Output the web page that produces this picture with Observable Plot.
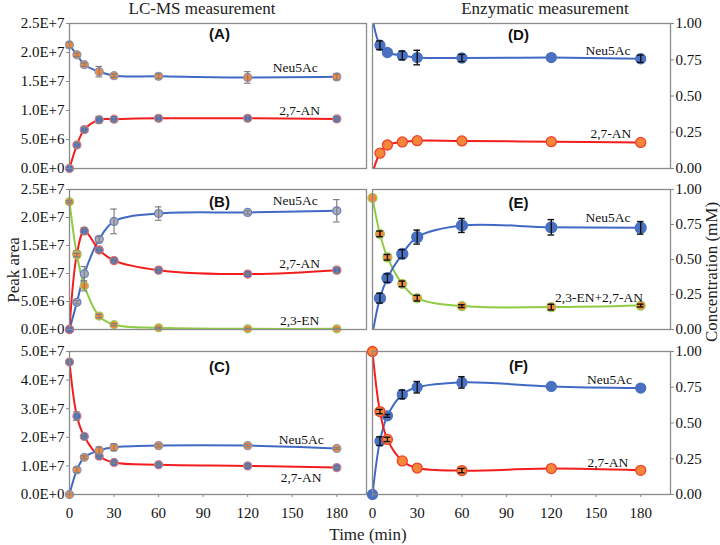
<!DOCTYPE html>
<html><head><meta charset="utf-8">
<script src="https://cdn.jsdelivr.net/npm/d3@7"></script>
<script src="https://cdn.jsdelivr.net/npm/@observablehq/plot@0.6"></script>
<style>
body{margin:0;background:#fff;}
#wrap{position:relative;width:720px;height:545px;overflow:hidden;}
#wrap svg{position:absolute;background:transparent !important;font-family:"Liberation Serif",serif;font-size:15px;}
#wrap svg text{font-family:"Liberation Serif",serif !important;}
#wrap svg g[aria-label="y-axis tick label"] text,
#wrap svg g[aria-label="x-axis tick label"] text{font-size:15px !important;}
#wrap svg g[aria-label="text"] text{font-size:13.5px !important;}
#wrap svg g[aria-label="text"][font-weight="bold"] text{font-family:"Liberation Sans",sans-serif !important;font-size:15px !important;}
.lbl{position:absolute;font-family:"Liberation Serif",serif;color:#222;white-space:nowrap;line-height:1;}
</style></head><body><div id="wrap"></div>
<script>
// ---------- data ----------
const time = [0, 5, 10, 20, 30, 60, 120, 180];
const xTicks = [0, 30, 60, 90, 120, 150, 180];

const lcTicksA = [0, 5e6, 10e6, 15e6, 20e6, 25e6];
const lcLabelsA = ["0.0E+0", "5.0E+6", "1.0E+7", "1.5E+7", "2.0E+7", "2.5E+7"];
const lcTicksC = [0, 10e6, 20e6, 30e6, 40e6, 50e6];
const lcLabelsC = ["0.0E+0", "1.0E+7", "2.0E+7", "3.0E+7", "4.0E+7", "5.0E+7"];
const enzTicks = [0, 0.25, 0.5, 0.75, 1.0];
const enzLabels = ["0.00", "0.25", "0.50", "0.75", "1.00"];

// (A) LC-MS
const A_neu = [21.3e6, 19.6e6, 17.9e6, 16.7e6, 16.0e6, 15.9e6, 15.7e6, 15.8e6];
const A_neu_err = [0.5e6, 0.3e6, 0.3e6, 0.9e6, 0.3e6, 0.4e6, 1.0e6, 0.5e6];
const A_an = [0, 4.05e6, 6.7e6, 8.4e6, 8.5e6, 8.65e6, 8.65e6, 8.55e6];
const A_an_err = [0, 0.3e6, 0.4e6, 0.6e6, 0.3e6, 0.4e6, 0.4e6, 0.2e6];
// (B) LC-MS
const B_neu = [0, 4.86e6, 9.95e6, 16.1e6, 19.3e6, 20.7e6, 20.9e6, 21.2e6];
const B_neu_err = [0, 0.3e6, 1.3e6, 0.5e6, 2.2e6, 1.2e6, 0.3e6, 2.0e6];
const B_an = [0, 13.5e6, 17.6e6, 14.2e6, 12.3e6, 10.6e6, 9.9e6, 10.6e6];
const B_an_err = [0, 0.5e6, 0.6e6, 0.3e6, 0.3e6, 0.3e6, 0.2e6, 0.5e6];
const B_en = [22.8e6, 13.3e6, 7.8e6, 2.4e6, 0.85e6, 0.3e6, 0.12e6, 0.12e6];
const B_en_err = [0.2e6, 0.3e6, 0.9e6, 0.3e6, 0.2e6, 0.1e6, 0.1e6, 0.1e6];
// (C) LC-MS
const C_an = [46.3e6, 27.4e6, 20.3e6, 13.4e6, 11.2e6, 10.4e6, 10.0e6, 9.4e6];
const C_an_err = [0.4e6, 1.5e6, 0.5e6, 0.5e6, 0.4e6, 0.3e6, 0.3e6, 0.3e6];
const C_neu = [0, 8.6e6, 13.0e6, 15.4e6, 16.5e6, 17.1e6, 17.1e6, 16.1e6];
const C_neu_err = [0, 0.9e6, 0.5e6, 1.2e6, 1.2e6, 0.5e6, 0.4e6, 0.3e6];
// (D) Enzymatic
const D_neu = [1.03, 0.85, 0.80, 0.78, 0.765, 0.762, 0.765, 0.757];
const D_neu_err = [0, 0.03, 0, 0.03, 0.05, 0.025, 0, 0.025];
const D_an = [-0.03, 0.106, 0.162, 0.183, 0.192, 0.19, 0.185, 0.18];
const D_an_err = [0, 0, 0, 0, 0, 0, 0, 0];
// (E) Enzymatic
const E_neu = [-0.03, 0.224, 0.367, 0.54, 0.66, 0.743, 0.73, 0.726];
const E_neu_err = [0, 0.035, 0.03, 0.03, 0.05, 0.05, 0.055, 0.045];
const E_en = [0.94, 0.683, 0.516, 0.326, 0.224, 0.167, 0.16, 0.171];
const E_en_err = [0, 0.02, 0.02, 0.02, 0.02, 0.01, 0.02, 0.01];
// (F) Enzymatic
const F_neu = [0, 0.373, 0.55, 0.70, 0.75, 0.784, 0.756, 0.744];
const F_neu_err = [0, 0.03, 0.01, 0.03, 0.04, 0.04, 0, 0];
const F_an = [1.0, 0.58, 0.385, 0.235, 0.185, 0.167, 0.181, 0.169];
const F_an_err = [0, 0.015, 0.015, 0, 0, 0.015, 0, 0];

// ---------- styles ----------
const BLUE = "#4169c4", RED = "#f21d1d", GREEN = "#8fcb45";
const ORANGE = "#f5873a", MBLUE = "#4a70c2", GRAYM = "#a9adbd";
const FRAME = "#8a8a8a";

const wrap = document.getElementById("wrap");

function panel(cfg) {
  const yMax = cfg.yTicks[cfg.yTicks.length - 1];
  const marks = [];
  const rowsOf = s => time.map((t, i) => ({t, v: s.y[i], e: s.err[i]}));
  for (const s of cfg.series) {
    marks.push(Plot.line(rowsOf(s), {x: "t", y: "v", stroke: s.line, strokeWidth: 2, curve: "catmull-rom", clip: true}));
  }
  for (const s of cfg.series) {
    const rows = rowsOf(s);
    const inside = rows.filter(d => d.v >= 0 && d.v <= yMax);
    marks.push(Plot.dot(inside, {x: "t", y: "v", r: s.r, fill: s.fill, stroke: s.stroke, strokeWidth: 1.3}));
    const eb = rows.filter(d => d.e > 0);
    marks.push(Plot.ruleX(eb, {x: "t", y1: d => d.v - d.e, y2: d => d.v + d.e, stroke: s.errColor, strokeWidth: s.errW}));
    marks.push(Plot.ruleY(eb, {y: d => d.v + d.e, x1: d => d.t - 2.2, x2: d => d.t + 2.2, stroke: s.errColor, strokeWidth: s.errW}));
    marks.push(Plot.ruleY(eb, {y: d => d.v - d.e, x1: d => d.t - 2.2, x2: d => d.t + 2.2, stroke: s.errColor, strokeWidth: s.errW}));
  }
  for (const l of cfg.labels) {
    marks.push(Plot.text([l], {x: d => d.t, y: d => d.v, text: d => d.s,
      fontSize: l.bold ? 15 : 13.5, fontWeight: l.bold ? "bold" : "normal",
      fontFamily: l.bold ? "Liberation Sans" : "Liberation Serif", fill: "#111"}));
  }
  marks.push(Plot.frame({stroke: FRAME, strokeWidth: 1.3}));
  marks.push(Plot.axisY({anchor: cfg.side, ticks: cfg.yTicks,
    tickFormat: d => cfg.yLabels[cfg.yTicks.indexOf(d)], tickSize: 3, tickPadding: 2,
    stroke: FRAME, fill: "#111", label: null}));
  if (cfg.xAxis) {
    marks.push(Plot.axisX({anchor: "bottom", ticks: xTicks, tickSize: 3, tickPadding: 10,
      stroke: FRAME, fill: "#111", label: null}));
  }
  const svg = Plot.plot({
    width: cfg.width, height: cfg.mt + cfg.h + cfg.mb,
    marginLeft: cfg.ml, marginRight: cfg.mr, marginTop: cfg.mt, marginBottom: cfg.mb,
    x: {domain: [0, 200], axis: null},
    y: {domain: [0, yMax], axis: null},
    style: {background: "transparent", fontFamily: "Liberation Serif", fontSize: "15px", color: "#111", overflow: "visible"},
    marks
  });
  svg.style.left = cfg.left + "px";
  svg.style.top = cfg.top + "px";
  wrap.appendChild(svg);
}

const lcLeft = {left: 0, width: 369, ml: 69, mr: 3, side: "left"};
const enRight = {left: 369, width: 351, ml: 3, mr: 50, side: "right"};
const lcErr = {errColor: "#808080", errW: 1.2, r: 4};
const enErr = {errColor: "#111", errW: 1.4, r: 5};

// (A)
panel({...lcLeft, top: 13, mt: 10, h: 145, mb: 10, yTicks: lcTicksA, yLabels: lcLabelsA,
  series: [
    {y: A_neu, err: A_neu_err, line: BLUE, fill: ORANGE, stroke: "#8e98b4", ...lcErr},
    {y: A_an, err: A_an_err, line: RED, fill: MBLUE, stroke: "#d08080", ...lcErr}],
  labels: [{t: 101, v: 23.2e6, s: "(A)", bold: true}, {t: 152, v: 17.3e6, s: "Neu5Ac"}, {t: 155, v: 10.0e6, s: "2,7-AN"}]});
// (B)
panel({...lcLeft, top: 178, mt: 11, h: 140, mb: 11, yTicks: lcTicksA, yLabels: lcLabelsA,
  series: [
    {y: B_neu, err: B_neu_err, line: BLUE, fill: GRAYM, stroke: "#6a80c0", ...lcErr},
    {y: B_an, err: B_an_err, line: RED, fill: MBLUE, stroke: "#e06a6a", ...lcErr},
    {y: B_en, err: B_en_err, line: GREEN, fill: ORANGE, stroke: "#9ccc5a", ...lcErr}],
  labels: [{t: 101, v: 22.7e6, s: "(B)", bold: true}, {t: 152, v: 23.0e6, s: "Neu5Ac"}, {t: 155, v: 11.7e6, s: "2,7-AN"}, {t: 155, v: 1.6e6, s: "2,3-EN"}]});
// (C)
panel({...lcLeft, top: 340, mt: 11, h: 143, mb: 30, xAxis: true, yTicks: lcTicksC, yLabels: lcLabelsC,
  series: [
    {y: C_an, err: C_an_err, line: RED, fill: MBLUE, stroke: "#d08080", ...lcErr},
    {y: C_neu, err: C_neu_err, line: BLUE, fill: ORANGE, stroke: "#8e98b4", ...lcErr}],
  labels: [{t: 101, v: 44.4e6, s: "(C)", bold: true}, {t: 156, v: 19.2e6, s: "Neu5Ac"}, {t: 156, v: 5.9e6, s: "2,7-AN"}]});
// (D)
panel({...enRight, top: 13, mt: 10, h: 145, mb: 10, yTicks: enzTicks, yLabels: enzLabels,
  series: [
    {y: D_neu, err: D_neu_err, line: BLUE, fill: MBLUE, stroke: MBLUE, ...enErr},
    {y: D_an, err: D_an_err, line: RED, fill: ORANGE, stroke: "#f0402a", ...enErr}],
  labels: [{t: 98, v: 0.917, s: "(D)", bold: true}, {t: 158, v: 0.814, s: "Neu5Ac"}, {t: 160, v: 0.24, s: "2,7-AN"}]});
// (E)
panel({...enRight, top: 178, mt: 11, h: 140, mb: 11, yTicks: enzTicks, yLabels: enzLabels,
  series: [
    {y: E_en, err: E_en_err, line: GREEN, fill: ORANGE, stroke: "#9ccc5a", ...enErr, r: 4.5},
    {y: E_neu, err: E_neu_err, line: BLUE, fill: MBLUE, stroke: MBLUE, ...enErr, r: 5.5}],
  labels: [{t: 98, v: 0.9, s: "(E)", bold: true}, {t: 158, v: 0.8, s: "Neu5Ac"}, {t: 152, v: 0.229, s: "2,3-EN+2,7-AN"}]});
// (F)
panel({...enRight, top: 340, mt: 11, h: 143, mb: 30, xAxis: true, yTicks: enzTicks, yLabels: enzLabels,
  series: [
    {y: F_neu, err: F_neu_err, line: BLUE, fill: MBLUE, stroke: MBLUE, ...enErr},
    {y: F_an, err: F_an_err, line: RED, fill: ORANGE, stroke: "#f0402a", ...enErr}],
  labels: [{t: 98, v: 0.894, s: "(F)", bold: true}, {t: 159, v: 0.803, s: "Neu5Ac"}, {t: 158, v: 0.225, s: "2,7-AN"}]});

// ---------- titles & axis labels ----------
function lbl(text, css) {
  const d = document.createElement("div");
  d.className = "lbl";
  d.textContent = text;
  Object.assign(d.style, css);
  wrap.appendChild(d);
}
lbl("LC-MS measurement", {left: "202px", top: "0px", fontSize: "17px", transform: "translateX(-50%)"});
lbl("Enzymatic measurement", {left: "545px", top: "0px", fontSize: "17px", transform: "translateX(-50%)"});
lbl("Time (min)", {left: "368px", top: "526px", fontSize: "17px", transform: "translateX(-50%)"});
lbl("Peak area", {left: "13px", top: "270px", fontSize: "17px", transform: "translate(-50%,-50%) rotate(-90deg)"});
lbl("Concentration (mM)", {left: "711px", top: "272px", fontSize: "17px", transform: "translate(-50%,-50%) rotate(-90deg)"});
</script>
</body></html>
